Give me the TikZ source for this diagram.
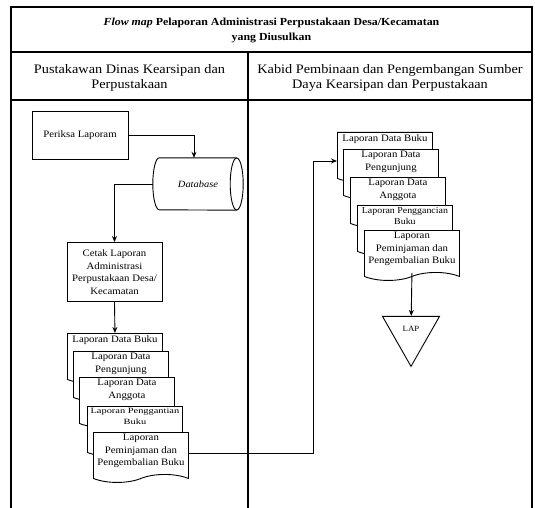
\documentclass[tikz,border=0pt]{standalone}
\usepackage{fontspec}
\setmainfont{Liberation Serif}[FakeStretch=1.1]
\newfontfamily\widefont{Liberation Serif}[FakeStretch=1.3]
\usepackage{tikz}
\usetikzlibrary{positioning,calc,arrows.meta,shapes.geometric,shapes.symbols}
\tikzset{>={Stealth[length=6pt,width=5pt]}}
\tikzset{
  lane/.style={line width=1.2pt},
  procbox/.style={draw,fill=white,line width=0.9pt,align=center,inner sep=2pt,font=\fontsize{9.8}{12.5}\selectfont},
  docbox/.style={draw,fill=white,line width=0.9pt,tape,tape bend top=none,tape bend height=8pt,
    minimum width=95pt,minimum height=50pt,inner sep=1pt,anchor=north west,font=\fontsize{9.8}{12.5}\selectfont},
  arr/.style={->,line width=0.9pt}
}
\newcommand{\doclines}[1]{\parbox[c][38pt][t]{92pt}{\centering #1}}

\begin{document}
\begin{tikzpicture}[x=1pt,y=-1pt]
\useasboundingbox (0,0) rectangle (535,508);
% lanes
\draw[lane] (11,508) -- (11,7) -- (532,7) -- (532,508);
\draw[lane] (11,52) -- (532,52);
\draw[lane] (11,100) -- (532,100);
\draw[lane] (248,52) -- (248,508);
\node (title) at (271.5,30) [align=center,font=\fontsize{10.8}{15}\selectfont\bfseries] {\textit{Flow map} Pelaporan Administrasi Perpustakaan Desa/Kecamatan\\yang Diusulkan};
\node (laneA) at (129.5,78) [align=center,font=\fontsize{13}{15.5}\selectfont] {Pustakawan Dinas Kearsipan dan\\Perpustakaan};
\node (laneB) at (390,78) [align=center,font=\fontsize{13}{15.5}\selectfont] {Kabid Pembinaan dan Pengembangan Sumber\\Daya Kearsipan dan Perpustakaan};
% left lane
\node (periksa) [procbox,minimum width=96pt,minimum height=48pt] at (80,135) {Periksa Laporam};
\node (db) [minimum width=90pt,minimum height=52pt,font=\itshape\fontsize{9.5}{11}\selectfont] at (198,184) {Database};
\draw[line width=0.9pt] ($(db.north east)+(-6.5,0)$) -- ($(db.north west)+(6.5,0)$)
  arc[start angle=-90,end angle=-270,x radius=6.5,y radius=26] -- ($(db.south east)+(-6.5,0)$);
\draw[line width=0.9pt] ($(db.east)+(-6.5,0)$) ellipse[x radius=6.5,y radius=26];
\node (cetak) [procbox,minimum width=95pt,minimum height=59pt] at (114.5,272) {Cetak Laporan\\Administrasi\\Perpustakaan Desa/\\Kecamatan};
\node (ld1) [docbox] at (67,333) {\doclines{Laporan Data Buku}};
\node (ld2) [docbox] at (73,351) {\doclines{Laporan Data\\Pengunjung}};
\node (ld3) [docbox] at (79,377) {\doclines{Laporan Data\\Anggota}};
\node (ld4) [docbox] at (87,406) {\doclines{\widefont\fontsize{8}{10.5}\selectfont Laporan Penggantian\\Buku}};
\node (ld5) [docbox] at (93,432) {\doclines{Laporan\\Peminjaman dan\\Pengembalian Buku}};
% right lane
\node (rd1) [docbox] at (337,132) {\doclines{Laporan Data Buku}};
\node (rd2) [docbox] at (343,149) {\doclines{Laporan Data\\Pengunjung}};
\node (rd3) [docbox] at (350,177) {\doclines{Laporan Data\\Anggota}};
\node (rd4) [docbox] at (357,205) {\doclines{\fontsize{9}{11.5}\selectfont Laporan Penggancian\\Buku}};
\node (rd5) [docbox] at (364,230) {\doclines{Laporan\\Peminjaman dan\\Pengembalian Buku}};
\node (lap) [draw,line width=0.9pt,isosceles triangle,isosceles triangle stretches,shape border rotate=270,
  minimum width=57pt,minimum height=50pt,inner sep=0pt,font=\fontsize{8}{9}\selectfont] at (411,329) {LAP};
% connectors
\coordinate (turn) at (313,161);
\draw[arr] (periksa.east) -| ($(db.north)+(-4,0)$);
\draw[arr] (db.west) -| (cetak.north);
\draw[arr] (cetak.south) -- (ld1.north);
\draw[arr] (ld5.east) -| (turn) -- (turn -| rd1.west);
\draw[arr] (rd5.south) -- (lap);
\end{tikzpicture}
\end{document}
